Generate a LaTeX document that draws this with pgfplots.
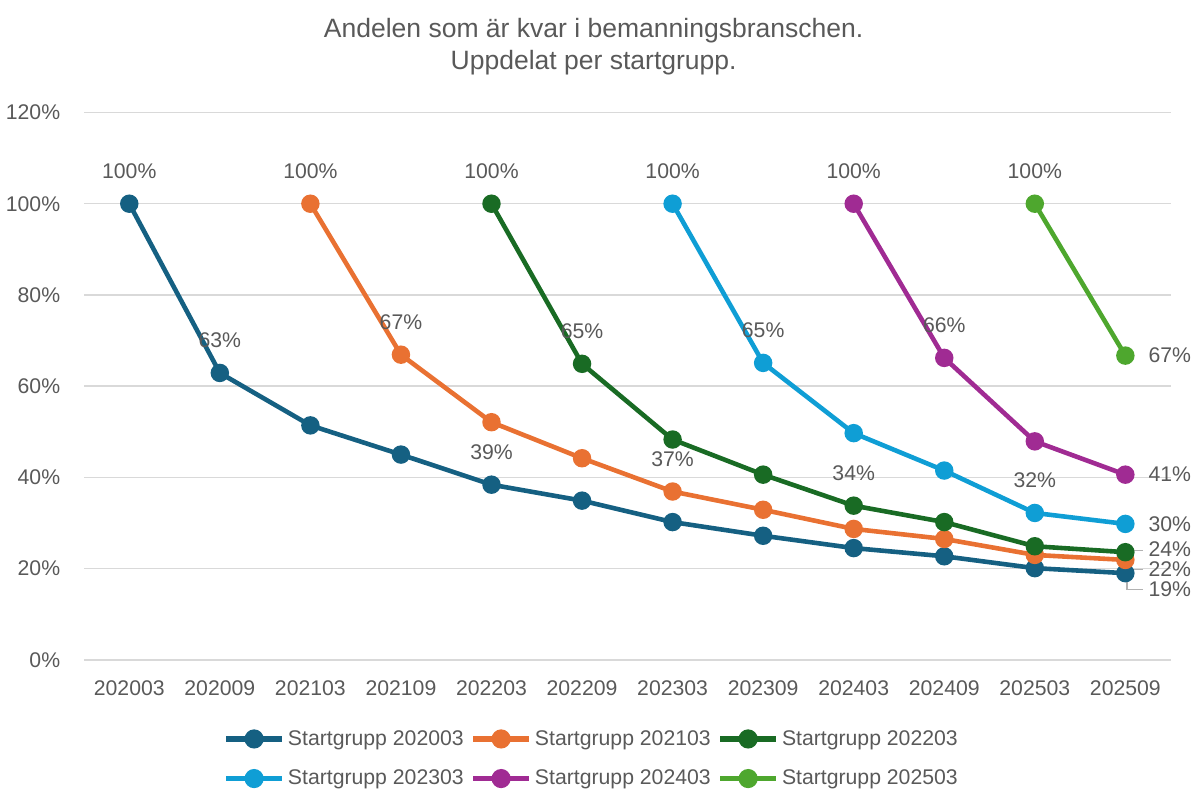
\documentclass[border=0pt]{standalone}
\usepackage{pgfplots}
\pgfplotsset{compat=1.18}
\usepackage{fontspec}
\setmainfont{Liberation Sans}
\definecolor{txt}{HTML}{595959}
\definecolor{gridc}{HTML}{D9D9D9}
\definecolor{cA}{HTML}{156082}
\definecolor{cB}{HTML}{E97132}
\definecolor{cC}{HTML}{196B24}
\definecolor{cD}{HTML}{0F9ED5}
\definecolor{cE}{HTML}{A02B93}
\definecolor{cF}{HTML}{4EA72E}

\begin{document}
\begin{tikzpicture}[font=\fontsize{12}{14}\selectfont, text=txt]
\begin{axis}[
  scale only axis,
  width=21.6cm, height=10.88cm,
  xmin=-0.5, xmax=11.5, ymin=0, ymax=120,
  xtick={0,...,11},
  xticklabels={202003,202009,202103,202109,202203,202209,202303,202309,202403,202409,202503,202509},
  ytick={0,20,...,120},
  yticklabel={\pgfmathprintnumber{\tick}\%},
  /pgf/number format/assume math mode=true,
  xticklabel style={yshift=-0.3cm, text=txt},
  yticklabel style={xshift=-0.35cm, text=txt},
  major tick length=0pt,
  ymajorgrids, grid style={gridc, line width=0.8pt},
  axis x line*=bottom, axis y line*=left,
  x axis line style={gridc, line width=0.8pt, -},
  y axis line style={draw=none},
  clip=false,
  title={Andelen som är kvar i bemanningsbranschen.\\Uppdelat per startgrupp.},
  title style={align=center, at={(0.469,1)}, anchor=south, yshift=0.42cm,
               font=\fontsize{15}{18}\selectfont, text=txt},
  every axis plot/.append style={line width=2.6pt, mark=*, mark size=3.9pt},
  legend columns=3,
  legend style={at={(0.468,-0.115)}, anchor=north, draw=none, fill=none,
                font=\fontsize{12}{14}\selectfont, text=txt,
                /tikz/every even column/.append style={column sep=2pt},
                row sep=0.3cm},
  legend image code/.code={
    \draw[line width=3pt, mark repeat=2, mark phase=2] plot coordinates {(0cm,0cm) (0.55cm,0cm) (1.1cm,0cm)};},
]
\addplot[cA] coordinates {(0,100) (1,62.9) (2,51.4) (3,45.0) (4,38.4) (5,34.9)
  (6,30.2) (7,27.2) (8,24.5) (9,22.7) (10,20.1) (11,19.0)};
\addlegendentry{Startgrupp 202003}
\addplot[cB] coordinates {(2,100) (3,66.9) (4,52.1) (5,44.2) (6,36.9) (7,32.9)
  (8,28.7) (9,26.5) (10,23.0) (11,21.9)};
\addlegendentry{Startgrupp 202103}
\addplot[cC] coordinates {(4,100) (5,64.9) (6,48.3) (7,40.6) (8,33.8) (9,30.2)
  (10,24.9) (11,23.6)};
\addlegendentry{Startgrupp 202203}
\addplot[cD] coordinates {(6,100) (7,65.1) (8,49.7) (9,41.5) (10,32.2) (11,29.8)};
\addlegendentry{Startgrupp 202303}
\addplot[cE] coordinates {(8,100) (9,66.2) (10,47.9) (11,40.6)};
\addlegendentry{Startgrupp 202403}
\addplot[cF] coordinates {(10,100) (11,66.7)};
\addlegendentry{Startgrupp 202503}

% data labels above points
\addplot[draw=none, mark=none, forget plot, point meta=explicit symbolic,
  nodes near coords, nodes near coords style={anchor=south, yshift=0.34cm, text=txt,
  font=\fontsize{12}{14}\selectfont}]
  coordinates {(0,100)[100\%] (2,100)[100\%] (4,100)[100\%] (6,100)[100\%]
  (8,100)[100\%] (10,100)[100\%]
  (1,62.9)[63\%] (3,66.9)[67\%] (5,64.9)[65\%] (7,65.1)[65\%] (9,66.2)[66\%]
  (4,38.4)[39\%] (6,36.9)[37\%] (8,33.8)[34\%] (10,32.2)[32\%]};
% labels at the right end
\addplot[draw=none, mark=none, forget plot, point meta=explicit symbolic,
  nodes near coords, nodes near coords style={anchor=west, xshift=0.3cm, text=txt,
  font=\fontsize{12}{14}\selectfont, inner ysep=0pt}]
  coordinates {(11,66.7)[67\%] (11,40.6)[41\%] (11,29.8)[30\%]
  (11,24.2)[24\%] (11,19.8)[22\%] (11,15.4)[19\%]};
% leader lines
\draw[gray!60, line width=0.8pt] (axis cs:11.08,24.0) -- (axis cs:11.2,24.0);
\draw[gray!60, line width=0.8pt] (axis cs:11.02,20.6) -- (axis cs:11.02,19.8) -- (axis cs:11.2,19.8);
\draw[gray!60, line width=0.8pt] (axis cs:11.02,18.0) -- (axis cs:11.02,15.4) -- (axis cs:11.2,15.4);
\end{axis}
\path ([yshift=0.24cm]current bounding box.north);
\end{tikzpicture}
\end{document}
